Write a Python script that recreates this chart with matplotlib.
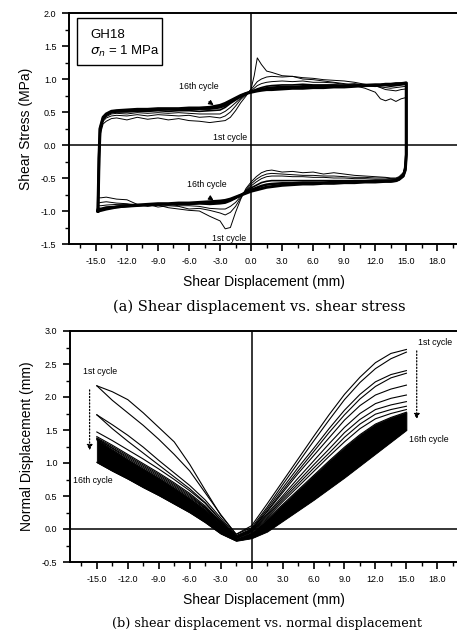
import matplotlib
matplotlib.use("Agg")
import matplotlib.pyplot as plt
from matplotlib.patches import Rectangle
from matplotlib.ticker import MultipleLocator, FormatStrFormatter

plt.rcParams['font.family'] = ['Liberation Sans', 'DejaVu Sans']

# ---------------- (a) shear stress loops ----------------
# shear displacement along the forward (upper) branch, mm
shear_fwd = [-14.8, -14.7, -14.6, -14.3, -14, -13.5, -13, -12, -11, -10,
             -9, -8, -7, -6, -5, -4, -3, -2.5, -2, -1.5,
             -1, -0.5, 0, 0.3, 0.6, 1, 1.5, 2, 3, 4,
             5, 6, 7, 8, 9, 10, 11, 12, 12.5, 13,
             13.5, 14, 14.5, 15]
# shear displacement along the reverse (lower) branch, mm
shear_rev = [15.0, 14.9, 14.7, 14.3, 14, 13.5, 13, 12, 11, 10,
             9, 8, 7, 6, 5, 4, 3, 2, 1.5, 1,
             0.5, 0, -0.5, -1, -1.5, -2, -2.5, -3, -4, -5,
             -6, -7, -8, -9, -10, -11, -12, -13, -14, -14.5,
             -14.8]

# shear stress (MPa), forward branch
fwd_c1 = [-0.80, -0.30, 0.15, 0.32, 0.36, 0.40, 0.41, 0.38, 0.42, 0.39,
          0.41, 0.38, 0.40, 0.37, 0.36, 0.34, 0.36, 0.37, 0.42, 0.52,
          0.64, 0.74, 0.85, 1.05, 1.32, 1.22, 1.12, 1.10, 1.05, 1.04,
          1.00, 0.99, 0.97, 0.95, 0.93, 0.90, 0.86, 0.80, 0.70, 0.67,
          0.70, 0.66, 0.70, 0.72]
fwd_c2 = [-0.88, -0.25, 0.18, 0.36, 0.41, 0.44, 0.45, 0.44, 0.46, 0.44,
          0.46, 0.45, 0.44, 0.45, 0.42, 0.43, 0.41, 0.44, 0.50, 0.59,
          0.69, 0.76, 0.84, 0.90, 0.96, 1.00, 1.03, 1.04, 1.03, 1.04,
          1.02, 1.01, 0.99, 0.98, 0.97, 0.95, 0.92, 0.90, 0.87, 0.84,
          0.83, 0.82, 0.84, 0.85]
fwd_c3 = [-0.92, -0.22, 0.20, 0.38, 0.43, 0.47, 0.48, 0.47, 0.49, 0.48,
          0.49, 0.48, 0.49, 0.48, 0.47, 0.47, 0.47, 0.51, 0.57, 0.64,
          0.71, 0.77, 0.82, 0.86, 0.90, 0.93, 0.95, 0.96, 0.97, 0.96,
          0.97, 0.95, 0.95, 0.94, 0.92, 0.93, 0.91, 0.89, 0.88, 0.87,
          0.86, 0.87, 0.88, 0.89]
fwd_c5 = [-0.96, -0.20, 0.22, 0.40, 0.45, 0.49, 0.50, 0.50, 0.51, 0.51,
          0.52, 0.51, 0.52, 0.52, 0.51, 0.52, 0.53, 0.57, 0.63, 0.68,
          0.73, 0.77, 0.81, 0.83, 0.85, 0.87, 0.89, 0.90, 0.91, 0.91,
          0.92, 0.91, 0.91, 0.91, 0.90, 0.91, 0.90, 0.89, 0.90, 0.90,
          0.89, 0.90, 0.91, 0.92]
fwd_c9 = [-0.98, -0.20, 0.24, 0.41, 0.46, 0.50, 0.51, 0.52, 0.53, 0.53,
          0.54, 0.54, 0.54, 0.54, 0.55, 0.55, 0.57, 0.60, 0.65, 0.70,
          0.74, 0.78, 0.81, 0.82, 0.83, 0.85, 0.86, 0.87, 0.88, 0.88,
          0.89, 0.89, 0.89, 0.90, 0.90, 0.90, 0.91, 0.91, 0.91, 0.92,
          0.92, 0.92, 0.93, 0.94]
fwd_c16 = [-1.00, -0.20, 0.25, 0.42, 0.47, 0.51, 0.52, 0.53, 0.54, 0.54,
           0.55, 0.55, 0.55, 0.56, 0.56, 0.57, 0.60, 0.63, 0.67, 0.71,
           0.75, 0.78, 0.80, 0.81, 0.82, 0.83, 0.84, 0.84, 0.85, 0.86,
           0.86, 0.87, 0.87, 0.88, 0.88, 0.89, 0.90, 0.91, 0.91, 0.92,
           0.92, 0.93, 0.93, 0.94]

# shear stress (MPa), reverse branch
rev_c1 = [-0.10, -0.30, -0.42, -0.48, -0.50, -0.50, -0.49, -0.48, -0.47, -0.46,
          -0.44, -0.42, -0.44, -0.41, -0.42, -0.40, -0.41, -0.38, -0.39, -0.42,
          -0.48, -0.56, -0.66, -0.82, -1.02, -1.25, -1.27, -1.15, -1.08, -1.00,
          -0.99, -0.97, -0.95, -0.91, -0.93, -0.90, -0.83, -0.82, -0.79, -0.80,
          -0.80]
rev_c2 = [-0.12, -0.33, -0.44, -0.49, -0.51, -0.51, -0.50, -0.50, -0.49, -0.49,
          -0.48, -0.47, -0.47, -0.46, -0.46, -0.45, -0.44, -0.43, -0.44, -0.47,
          -0.52, -0.59, -0.68, -0.80, -0.93, -1.02, -1.06, -1.03, -0.99, -0.96,
          -0.97, -0.93, -0.92, -0.94, -0.90, -0.91, -0.89, -0.88, -0.86, -0.87,
          -0.88]
rev_c3 = [-0.13, -0.35, -0.45, -0.50, -0.52, -0.52, -0.52, -0.52, -0.51, -0.51,
          -0.50, -0.50, -0.49, -0.49, -0.48, -0.48, -0.47, -0.47, -0.48, -0.51,
          -0.56, -0.62, -0.69, -0.78, -0.87, -0.93, -0.97, -0.97, -0.96, -0.93,
          -0.92, -0.92, -0.90, -0.91, -0.90, -0.91, -0.90, -0.90, -0.91, -0.92,
          -0.92]
rev_c5 = [-0.14, -0.36, -0.46, -0.51, -0.53, -0.54, -0.54, -0.54, -0.54, -0.54,
          -0.54, -0.54, -0.54, -0.54, -0.54, -0.54, -0.54, -0.54, -0.55, -0.57,
          -0.61, -0.65, -0.70, -0.76, -0.81, -0.85, -0.88, -0.89, -0.90, -0.89,
          -0.90, -0.89, -0.90, -0.90, -0.91, -0.91, -0.92, -0.93, -0.94, -0.96,
          -0.96]
rev_c9 = [-0.14, -0.37, -0.47, -0.52, -0.54, -0.55, -0.55, -0.55, -0.55, -0.56,
          -0.56, -0.56, -0.57, -0.57, -0.57, -0.58, -0.58, -0.59, -0.60, -0.62,
          -0.65, -0.68, -0.72, -0.76, -0.80, -0.83, -0.86, -0.87, -0.88, -0.88,
          -0.89, -0.89, -0.90, -0.90, -0.91, -0.92, -0.93, -0.94, -0.96, -0.98,
          -0.98]
rev_c16 = [-0.15, -0.38, -0.47, -0.52, -0.54, -0.55, -0.55, -0.56, -0.56, -0.57,
           -0.57, -0.58, -0.58, -0.59, -0.59, -0.60, -0.61, -0.63, -0.64, -0.66,
           -0.68, -0.70, -0.73, -0.76, -0.79, -0.82, -0.84, -0.85, -0.86, -0.87,
           -0.88, -0.88, -0.89, -0.89, -0.90, -0.91, -0.92, -0.94, -0.97, -0.99,
           -1.00]

stress_cycles = [(fwd_c1, rev_c1, 0.7), (fwd_c2, rev_c2, 0.7),
                 (fwd_c3, rev_c3, 0.7), (fwd_c5, rev_c5, 1.2),
                 (fwd_c9, rev_c9, 1.8), (fwd_c16, rev_c16, 2.2)]

# ---------------- (b) normal displacement (dilation) ----------------
shear_grid = [-15, -13.5, -12, -10.5, -9, -7.5, -6, -4.5, -3, -1.5,
              0, 1.5, 3, 4.5, 6, 7.5, 9, 10.5, 12, 13.5, 15]

dil_c1a = [2.17, 2.08, 1.96, 1.76, 1.54, 1.32, 0.98, 0.59, 0.21, -0.08,
           0.05, 0.38, 0.72, 1.06, 1.40, 1.73, 2.04, 2.30, 2.52, 2.66, 2.72]
dil_c1b = [2.17, 1.95, 1.76, 1.57, 1.36, 1.13, 0.88, 0.55, 0.22, -0.08,
           0.02, 0.33, 0.67, 1.00, 1.33, 1.65, 1.96, 2.22, 2.43, 2.58, 2.68]
dil_c2a = [1.73, 1.58, 1.42, 1.24, 1.04, 0.85, 0.66, 0.44, 0.17, -0.10,
           0.00, 0.30, 0.62, 0.93, 1.22, 1.52, 1.80, 2.04, 2.23, 2.34, 2.40]
dil_c2b = [1.73, 1.52, 1.33, 1.15, 0.97, 0.79, 0.61, 0.40, 0.14, -0.11,
           -0.01, 0.27, 0.58, 0.88, 1.17, 1.46, 1.73, 1.97, 2.16, 2.29, 2.36]
dil_c3 = [1.47, 1.34, 1.20, 1.06, 0.91, 0.75, 0.58, 0.39, 0.13, -0.12,
          -0.01, 0.26, 0.55, 0.84, 1.11, 1.38, 1.65, 1.87, 2.03, 2.12, 2.18]
dil_c4 = [1.40, 1.27, 1.13, 0.99, 0.85, 0.70, 0.54, 0.35, 0.11, -0.13,
          -0.02, 0.23, 0.50, 0.77, 1.03, 1.29, 1.54, 1.75, 1.90, 1.98, 2.03]
dil_c5 = [1.38, 1.25, 1.11, 0.97, 0.83, 0.68, 0.52, 0.33, 0.10, -0.13,
          -0.03, 0.21, 0.47, 0.72, 0.97, 1.21, 1.46, 1.66, 1.81, 1.88, 1.93]
dil_c6 = [1.37, 1.23, 1.09, 0.95, 0.81, 0.66, 0.50, 0.32, 0.09, -0.14,
          -0.03, 0.19, 0.44, 0.68, 0.92, 1.15, 1.39, 1.59, 1.74, 1.81, 1.86]
dil_c7 = [1.36, 1.22, 1.07, 0.93, 0.79, 0.64, 0.48, 0.31, 0.09, -0.14,
          -0.04, 0.17, 0.41, 0.64, 0.87, 1.10, 1.32, 1.52, 1.67, 1.75, 1.81]
# envelope of the densely packed later cycles (8th - 16th)
dil_late_top = [1.35, 1.20, 1.05, 0.91, 0.77, 0.62, 0.46, 0.29, 0.08, -0.14,
                -0.05, 0.15, 0.37, 0.59, 0.81, 1.03, 1.24, 1.43, 1.59, 1.69, 1.77]
dil_late_bot = [1.01, 0.88, 0.76, 0.63, 0.51, 0.38, 0.25, 0.10, -0.07, -0.18,
                -0.14, -0.04, 0.12, 0.28, 0.44, 0.61, 0.78, 0.96, 1.14, 1.32, 1.50]

dil_cycles = [dil_c1a, dil_c1b, dil_c2a, dil_c2b, dil_c3, dil_c4,
              dil_c5, dil_c6, dil_c7]

x_ticks = [-15, -12, -9, -6, -3, 0, 3, 6, 9, 12, 15, 18]

W, H = 457, 635
fig = plt.figure(figsize=(W / 100, H / 100), dpi=100)


def frame(ax, ylo, yhi):
    ax.set_xlim(-17.6, 20.0)
    ax.set_ylim(ylo, yhi)
    ax.set_xticks(x_ticks)
    ax.xaxis.set_minor_locator(MultipleLocator(1.5))
    ax.yaxis.set_major_locator(MultipleLocator(0.5))
    ax.yaxis.set_minor_locator(MultipleLocator(0.25))
    ax.xaxis.set_major_formatter(FormatStrFormatter('%.1f'))
    ax.yaxis.set_major_formatter(FormatStrFormatter('%.1f'))
    ax.tick_params(which='major', direction='out', length=5, width=1.2,
                   labelsize=6.5, pad=4)
    ax.tick_params(which='minor', direction='out', length=3, width=1.0)
    ax.tick_params(top=False, right=False, which='both')
    for s in ('left', 'bottom', 'top'):
        ax.spines[s].set_linewidth(1.4)
    ax.spines['right'].set_visible(False)
    ax.axvline(0, color='k', lw=1.1, zorder=1)
    ax.axhline(0, color='k', lw=1.1, zorder=1)
    ax.set_xlabel('Shear Displacement (mm)', fontsize=10, labelpad=7)


# panel (a)
ax1 = fig.add_axes([69 / W, (H - 244) / H, (458 - 69) / W, 231 / H])
frame(ax1, -1.5, 2.0)
for fwd, rev, lw in stress_cycles:
    xs = shear_fwd + shear_rev + [shear_fwd[0]]
    ys = fwd + rev + [fwd[0]]
    ax1.plot(xs, ys, color='k', lw=lw, solid_joinstyle='round', zorder=3)
ax1.set_ylabel('Shear Stress (MPa)', fontsize=10, labelpad=6)

ax1.add_patch(Rectangle((0.021, 0.775), 0.218, 0.203, transform=ax1.transAxes,
                        fill=False, lw=1.0, ec='k', zorder=5))
ax1.text(0.054, 0.905, 'GH18', transform=ax1.transAxes, fontsize=9.5,
         va='center', ha='left')
ax1.text(0.054, 0.835, r'$\sigma_n$ = 1 MPa', transform=ax1.transAxes,
         fontsize=9.5, va='center', ha='left')

lab = dict(fontsize=6.3, ha='center', va='center')
ax1.text(-5.1, 0.88, '16th cycle', **lab)
ax1.text(-2.0, 0.12, '1st cycle', **lab)
ax1.text(-4.3, -0.60, '16th cycle', **lab)
ax1.text(-2.1, -1.41, '1st cycle', **lab)
ax1.annotate('', xy=(-3.4, 0.58), xytext=(-4.3, 0.68),
             arrowprops=dict(arrowstyle='-|>', color='k', lw=0.8,
                             mutation_scale=7))
ax1.annotate('', xy=(-3.4, -0.86), xytext=(-4.2, -0.78),
             arrowprops=dict(arrowstyle='-|>', color='k', lw=0.8,
                             mutation_scale=7))

fig.text(0.567, 1 - 307 / H, '(a) Shear displacement vs. shear stress',
         family='DejaVu Serif', fontsize=10.5, ha='center', va='center')

# panel (b)
ax2 = fig.add_axes([70 / W, (H - 562) / H, (458 - 70) / W, 231 / H])
frame(ax2, -0.5, 3.0)
ax2.fill_between(shear_grid, dil_late_bot, dil_late_top, color='k', lw=0.6,
                 zorder=2)
for ys in dil_cycles:
    ax2.plot(shear_grid, ys, color='k', lw=0.8, zorder=3)
ax2.plot(shear_grid, dil_late_top, color='k', lw=0.8, zorder=3)
ax2.plot(shear_grid, dil_late_bot, color='k', lw=0.8, zorder=3)
ax2.set_ylabel('Normal Displacement (mm)', fontsize=10, labelpad=6)

ax2.text(-14.7, 2.39, '1st cycle', **lab)
ax2.text(-15.4, 0.73, '16th cycle', **lab)
ax2.text(16.1, 2.82, '1st cycle', fontsize=6.3, ha='left', va='center')
ax2.text(17.2, 1.35, '16th cycle', **lab)
for x0, y0, y1 in [(-15.7, 2.15, 1.15), (16.0, 2.74, 1.62)]:
    ax2.annotate('', xy=(x0, y1), xytext=(x0, y0),
                 arrowprops=dict(arrowstyle='-|>', color='k', lw=0.9,
                                 linestyle=(0, (1, 1.6)), mutation_scale=8))

fig.text(0.585, 1 - 624 / H, '(b) shear displacement vs. normal displacement',
         family='DejaVu Serif', fontsize=9.2, ha='center', va='center')

fig.savefig('out.png', dpi=100, facecolor='white')
